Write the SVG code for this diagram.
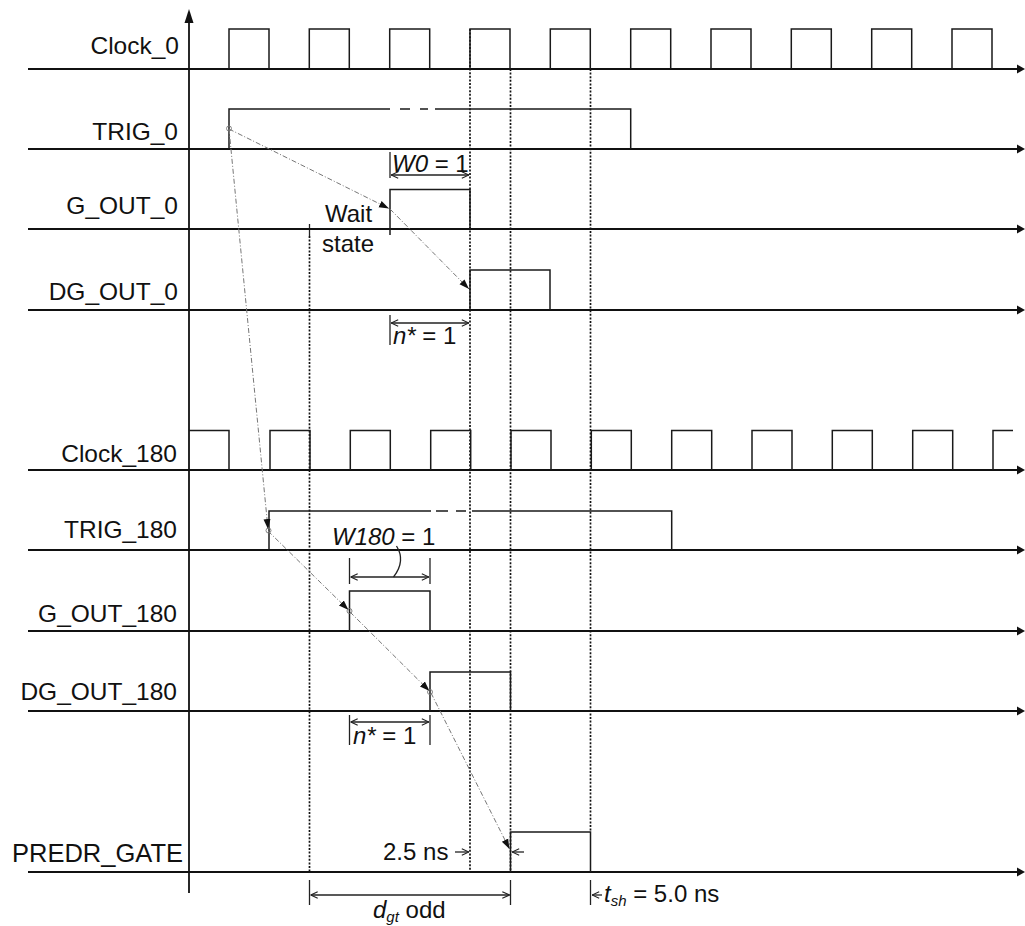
<svg xmlns="http://www.w3.org/2000/svg" width="1025" height="926" viewBox="0 0 1025 926">
<defs>
<style>
.bg{fill:#fff}
.base{stroke:#111;stroke-width:1.8;fill:none}
.sig{stroke:#1a1a1a;stroke-width:1.5;fill:none}
.dot{stroke:#111;stroke-width:1.7;stroke-dasharray:2,1.6;fill:none}
.dim{stroke:#222;stroke-width:1.3;fill:none}
.tick{stroke:#222;stroke-width:1.3;fill:none}
.diag{stroke:#777;stroke-width:1;stroke-dasharray:5,2,1,2;fill:none}
.circ{stroke:#777;stroke-width:0.9;fill:none}
.lbl{font-family:"Liberation Sans",Arial,sans-serif;font-size:24.5px;fill:#111}
.ann{font-family:"Liberation Sans",Arial,sans-serif;font-size:24px;fill:#111}
.it{font-style:italic}
.sub{font-size:15px}
.arrowtip{fill:#111}
</style>
<marker id="open" viewBox="0 0 10 10" refX="10" refY="5" markerWidth="8" markerHeight="8" markerUnits="userSpaceOnUse" orient="auto-start-reverse">
<path d="M1,1 L10,5 L1,9" fill="none" stroke="#222" stroke-width="1.4"/>
</marker>
<marker id="fill" viewBox="0 0 10 10" refX="10" refY="5" markerWidth="10" markerHeight="10" markerUnits="userSpaceOnUse" orient="auto">
<path d="M0,1.5 L10,5 L0,8.5 Z" fill="#111"/>
</marker>
</defs>
<rect class="bg" x="0" y="0" width="1025" height="926"/>

<g id="axis">
<line class="base" x1="189" y1="18" x2="189" y2="893" stroke-width="2"/>
<path class="arrowtip" d="M189 9 L184.5 23 L193.5 23 Z"/>
</g>

<g id="guides">
<line class="dot" x1="309.5" y1="236" x2="309.5" y2="872"/>
<line class="tick" x1="309.5" y1="224" x2="309.5" y2="236"/>
<line class="dot" x1="470" y1="29" x2="470" y2="872"/>
<line class="dot" x1="510.5" y1="69" x2="510.5" y2="872"/>
<line class="dot" x1="590.5" y1="69" x2="590.5" y2="832"/>
</g>

<g id="clock_0">
<text class="lbl" x="179" y="54" text-anchor="end">Clock_0</text>
<line class="base" x1="28" y1="69" x2="1018" y2="69"/>
<path class="arrowtip" d="M1017 64.5 L1025 69 L1017 73.5 Z"/>
<path class="sig" d="M229 69V29H269V69 M309.3 69V29H349.3V69 M389.7 69V29H429.7V69 M470 69V29H510V69 M550.3 69V29H590.3V69 M630.7 69V29H670.7V69 M711 69V29H751V69 M791.3 69V29H831.3V69 M871.7 69V29H911.7V69 M952 69V29H992V69"/>
</g>

<g id="trig_0">
<text class="lbl" x="178" y="140" text-anchor="end">TRIG_0</text>
<line class="base" x1="28" y1="149" x2="1018" y2="149"/>
<path class="arrowtip" d="M1017 144.5 L1025 149 L1017 153.5 Z"/>
<path class="sig" d="M229 149V109H390 M400 109H410 M420 109H428 M435 109H630.7V149"/>
</g>

<g id="g_out_0">
<text class="lbl" x="178" y="214" text-anchor="end">G_OUT_0</text>
<line class="base" x1="28" y1="229" x2="1018" y2="229"/>
<path class="arrowtip" d="M1017 224.5 L1025 229 L1017 233.5 Z"/>
<path class="sig" d="M390 235V189.5H470V229"/>
<line class="tick" x1="390" y1="152" x2="390" y2="178"/>
<line class="dim" x1="391" y1="175" x2="469" y2="175" marker-start="url(#open)" marker-end="url(#open)"/>
<text class="ann" x="392" y="172"><tspan class="it">W0</tspan> = 1</text>
<text class="ann" x="325" y="222">Wait</text>
<text class="ann" x="322" y="252">state</text>
</g>

<g id="dg_out_0">
<text class="lbl" x="178" y="300" text-anchor="end">DG_OUT_0</text>
<line class="base" x1="28" y1="310" x2="1018" y2="310"/>
<path class="arrowtip" d="M1017 305.5 L1025 310 L1017 314.5 Z"/>
<path class="sig" d="M470 310V270H550V310"/>
<line class="tick" x1="390" y1="315" x2="390" y2="345"/>
<line class="dim" x1="391" y1="323" x2="469" y2="323" marker-start="url(#open)" marker-end="url(#open)"/>
<text class="ann" x="393" y="344"><tspan class="it">n*</tspan> = 1</text>
</g>

<g id="clock_180">
<text class="lbl" x="177" y="462" text-anchor="end">Clock_180</text>
<line class="base" x1="28" y1="470" x2="1018" y2="470"/>
<path class="arrowtip" d="M1017 465.5 L1025 470 L1017 474.5 Z"/>
<path class="sig" d="M189 430.5H229V470 M270 470V430.5H310V470 M350.3 470V430.5H390.3V470 M430.7 470V430.5H470.7V470 M511 470V430.5H551V470 M591.3 470V430.5H631.3V470 M671.7 470V430.5H711.7V470 M752 470V430.5H792V470 M832.3 470V430.5H872.3V470 M912.7 470V430.5H952.7V470 M993 470V430.5H1013"/>
</g>

<g id="trig_180">
<text class="lbl" x="177" y="538" text-anchor="end">TRIG_180</text>
<line class="base" x1="28" y1="550" x2="1018" y2="550"/>
<path class="arrowtip" d="M1017 545.5 L1025 550 L1017 554.5 Z"/>
<path class="sig" d="M269 550V511H431 M436 511H448 M456 511H466 M472 511H671.7V550"/>
<text class="ann" x="332" y="545"><tspan class="it">W180</tspan> = 1</text>
</g>

<g id="g_out_180">
<text class="lbl" x="177" y="622" text-anchor="end">G_OUT_180</text>
<line class="base" x1="28" y1="631" x2="1018" y2="631"/>
<path class="arrowtip" d="M1017 626.5 L1025 631 L1017 635.5 Z"/>
<path class="sig" d="M349.5 631V591H430V631"/>
<line class="tick" x1="349.5" y1="558" x2="349.5" y2="584"/>
<line class="tick" x1="430" y1="558" x2="430" y2="584"/>
<line class="dim" x1="350.5" y1="577" x2="429" y2="577" marker-start="url(#open)" marker-end="url(#open)"/>
<path class="dim" d="M396.5 546 Q406 561 393.5 577"/>
</g>

<g id="dg_out_180">
<text class="lbl" x="177" y="700" text-anchor="end">DG_OUT_180</text>
<line class="base" x1="28" y1="711" x2="1018" y2="711"/>
<path class="arrowtip" d="M1017 706.5 L1025 711 L1017 715.5 Z"/>
<path class="sig" d="M430 711V672H510.5V711"/>
<line class="tick" x1="349.5" y1="715" x2="349.5" y2="745"/>
<line class="tick" x1="430" y1="715" x2="430" y2="745"/>
<line class="dim" x1="350.5" y1="722" x2="429" y2="722" marker-start="url(#open)" marker-end="url(#open)"/>
<text class="ann" x="353" y="744"><tspan class="it">n*</tspan> = 1</text>
</g>

<g id="predr_gate">
<text class="lbl" x="183" y="862" text-anchor="end" style="font-size:25.5px">PREDR_GATE</text>
<line class="base" x1="28" y1="872" x2="1018" y2="872"/>
<path class="arrowtip" d="M1017 867.5 L1025 872 L1017 876.5 Z"/>
<path class="sig" d="M510.5 872V832H590.5V872"/>
<text class="ann" x="383" y="860">2.5 ns</text>
<line class="dim" x1="455" y1="852" x2="469" y2="852" marker-end="url(#open)"/>
<line class="dim" x1="524" y1="852" x2="512" y2="852" marker-end="url(#open)"/>
</g>

<g id="dgt_dim">
<line class="tick" x1="309.5" y1="880" x2="309.5" y2="905"/>
<line class="tick" x1="510.5" y1="880" x2="510.5" y2="905"/>
<line class="dim" x1="310.5" y1="895" x2="509.5" y2="895" marker-start="url(#open)" marker-end="url(#open)"/>
<text class="ann" x="373" y="918"><tspan class="it">d</tspan><tspan class="sub it" dy="4">gt</tspan><tspan dy="-4"> odd</tspan></text>
</g>

<g id="tsh_dim">
<line class="tick" x1="590.5" y1="880" x2="590.5" y2="905"/>
<line class="dim" x1="602" y1="895" x2="592" y2="895" marker-end="url(#open)"/>
<text class="ann" x="604" y="902"><tspan class="it">t</tspan><tspan class="sub it" dy="4">sh</tspan><tspan dy="-4"> = 5.0 ns</tspan></text>
</g>

<g id="connectors">
<line class="diag" x1="229" y1="129" x2="389" y2="208.5" marker-end="url(#fill)"/>
<line class="diag" x1="390" y1="209" x2="469" y2="289" marker-end="url(#fill)"/>
<line class="diag" x1="229" y1="129" x2="268" y2="529" marker-end="url(#fill)"/>
<line class="diag" x1="268" y1="531" x2="348.5" y2="610" marker-end="url(#fill)"/>
<line class="diag" x1="350" y1="612" x2="429.5" y2="691" marker-end="url(#fill)"/>
<line class="diag" x1="431" y1="693" x2="509.5" y2="849" marker-end="url(#fill)"/>
<circle class="circ" cx="229" cy="128.5" r="2.5"/>
<circle class="circ" cx="268.5" cy="530.5" r="2.5"/>
<circle class="circ" cx="349.5" cy="611" r="2.5"/>
<circle class="circ" cx="430" cy="692" r="2.5"/>
</g>
</svg>
